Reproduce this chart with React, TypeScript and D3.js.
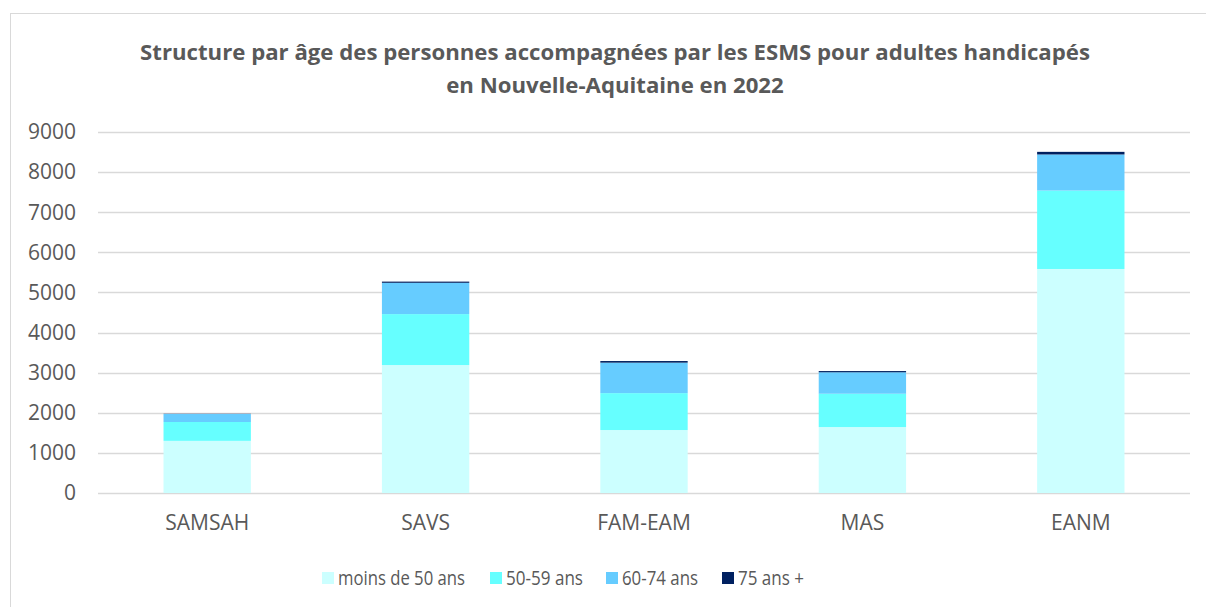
import * as d3 from 'd3';
import { useEffect, useRef } from 'react';

const categories = ['SAMSAH', 'SAVS', 'FAM-EAM', 'MAS', 'EANM'];
const seriesNames = ['moins de 50 ans', '50-59 ans', '60-74 ans', '75 ans +'];
const moins50 = [1300, 3190, 1570, 1645, 5585];
const de50a59 = [470, 1270, 920, 830, 1955];
const de60a74 = [200, 780, 760, 535, 900];
const plus75 = [5, 30, 40, 30, 65];
const yTicks = [0, 1000, 2000, 3000, 4000, 5000, 6000, 7000, 8000, 9000];
const colors = ['#CCFFFF', '#66FFFF', '#66CCFF', '#002060'];

const FONT = '"Open Sans", "Noto Sans", sans-serif';

const App = () => {
    const svgRef = useRef<SVGSVGElement>(null);

    useEffect(() => {
        const width = 1206;
        const height = 607;
        const margin = { top: 132, right: 16, bottom: 114, left: 98 };

        const svg = d3.select(svgRef.current);
        svg.selectAll('*').remove();

        // cadre du graphique
        svg.append('rect')
            .attr('x', 10.5)
            .attr('y', 13.5)
            .attr('width', 1200)
            .attr('height', 700)
            .attr('fill', 'white')
            .attr('stroke', '#d9d9d9')
            .attr('stroke-width', 1);

        const x = d3
            .scaleBand()
            .domain(categories)
            .range([margin.left, width - margin.right])
            .paddingInner(0.6)
            .paddingOuter(0.3);

        const y = d3
            .scaleLinear()
            .domain([0, 9000])
            .range([height - margin.bottom, margin.top]);

        // grille
        svg.append('g')
            .selectAll('line')
            .data(yTicks)
            .enter()
            .append('line')
            .attr('x1', margin.left)
            .attr('x2', width - margin.right)
            .attr('y1', (d) => Math.round(y(d)) + 0.5)
            .attr('y2', (d) => Math.round(y(d)) + 0.5)
            .attr('stroke', '#d9d9d9')
            .attr('stroke-width', 1.5);

        svg.append('g')
            .selectAll('text')
            .data(yTicks)
            .enter()
            .append('text')
            .attr('x', 76)
            .attr('y', (d) => y(d))
            .attr('dy', '0.35em')
            .attr('text-anchor', 'end')
            .style('font-family', FONT)
            .style('font-size', '21px')
            .style('fill', '#595959')
            .text((d) => String(d));

        const rows = categories.map((c, i) => ({
            cat: c,
            s0: moins50[i],
            s1: de50a59[i],
            s2: de60a74[i],
            s3: plus75[i],
        }));
        const stack = d3.stack<any>().keys(['s0', 's1', 's2', 's3']);
        const layers = stack(rows);

        svg.append('g')
            .selectAll('g')
            .data(layers)
            .enter()
            .append('g')
            .attr('fill', (_d, i) => colors[i])
            .selectAll('rect')
            .data((d) => d)
            .enter()
            .append('rect')
            .attr('x', (d) => x(d.data.cat) as number)
            .attr('width', x.bandwidth())
            .attr('y', (d) => y(d[1]))
            .attr('height', (d) => y(d[0]) - y(d[1]));

        // étiquettes des catégories
        svg.append('g')
            .selectAll('text')
            .data(categories)
            .enter()
            .append('text')
            .attr('x', (d) => (x(d) as number) + x.bandwidth() / 2)
            .attr('y', 523)
            .attr('dy', '0.35em')
            .attr('text-anchor', 'middle')
            .style('font-family', FONT)
            .style('font-size', '21px')
            .style('fill', '#595959')
            .text((d) => d);

        // titre
        const title = svg
            .append('text')
            .attr('x', 615)
            .attr('text-anchor', 'middle')
            .style('font-family', FONT)
            .style('font-size', '22.2px')
            .style('font-weight', 'bold')
            .style('fill', '#595959');
        title.append('tspan').attr('x', 615).attr('y', 52).attr('dy', '0.35em')
            .text('Structure par âge des personnes accompagnées par les ESMS pour adultes handicapés');
        title.append('tspan').attr('x', 615).attr('y', 85).attr('dy', '0.35em')
            .text('en Nouvelle-Aquitaine en 2022');

        // légende (texte un peu resserré, police étroite dans l'original)
        const legendX = [322, 490, 606, 722];
        const legendW = [127, 77, 76, 66];
        const legend = svg
            .append('g')
            .selectAll('g')
            .data(seriesNames)
            .enter()
            .append('g')
            .attr('transform', (_d, i) => `translate(${legendX[i]}, 578)`);
        legend.append('rect')
            .attr('x', 0)
            .attr('y', -6)
            .attr('width', 12)
            .attr('height', 12)
            .attr('fill', (_d, i) => colors[i]);
        legend.append('text')
            .attr('x', 16)
            .attr('y', 0)
            .attr('dy', '0.35em')
            .attr('textLength', (_d, i) => legendW[i])
            .attr('lengthAdjust', 'spacingAndGlyphs')
            .style('font-family', FONT)
            .style('font-size', '20px')
            .style('fill', '#595959')
            .text((d) => d);
    }, []);

    return (
        <svg
            ref={svgRef}
            width={1206}
            height={607}
            style={{ position: 'absolute', left: 0, top: 0, background: 'white' }}
        />
    );
};

export default App;
